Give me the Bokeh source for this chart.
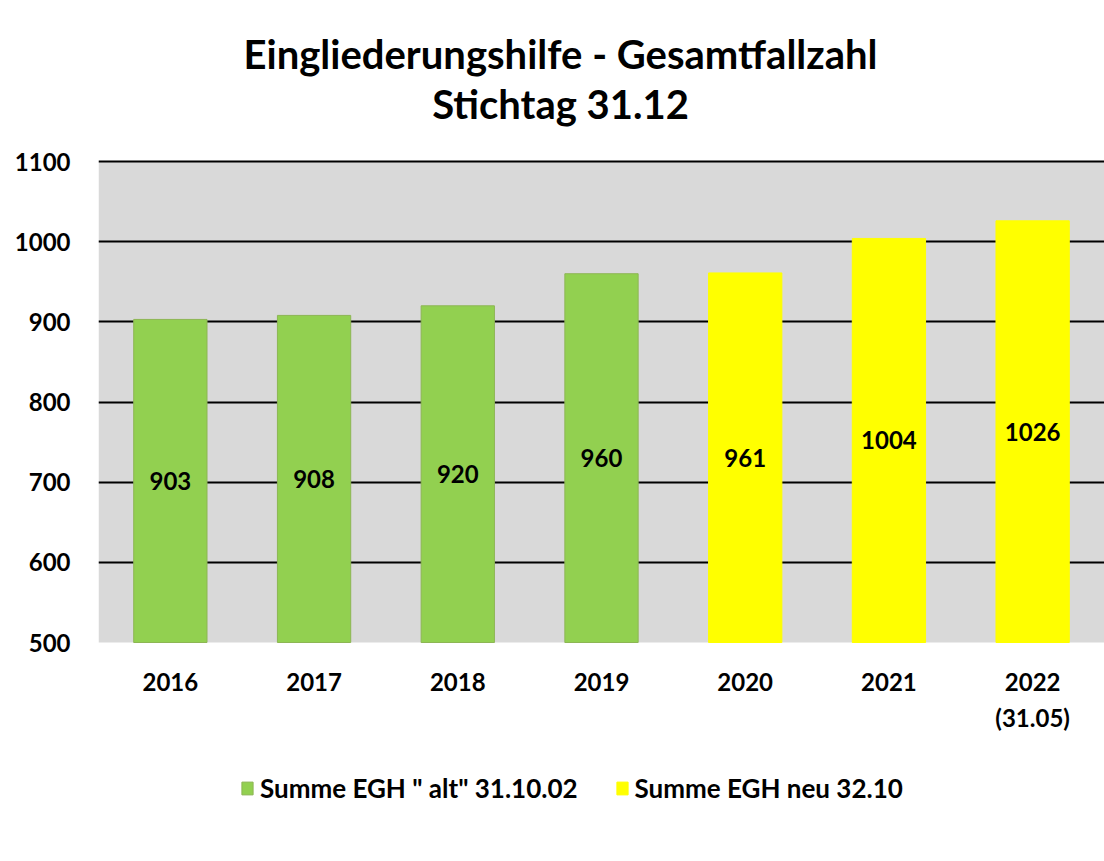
from bokeh.plotting import figure
from bokeh.models import (ColumnDataSource, FixedTicker, Legend, LegendItem, Label,
                          FactorRange, Range1d, BoxAnnotation)
from bokeh.core.properties import value
from bokeh.embed import file_html
from bokeh.resources import INLINE

# ---- data ----
years = ["2016", "2017", "2018", "2019", "2020", "2021", "2022\n(31.05)"]
alt_years = ["2016", "2017", "2018", "2019"]
alt_values = [903, 908, 920, 960]
neu_years = ["2020", "2021", "2022\n(31.05)"]
neu_values = [961, 1004, 1026]
y_ticks = [500, 600, 700, 800, 900, 1000, 1100]
series_names = ['Summe EGH " alt" 31.10.02', "Summe EGH neu 32.10"]
title_line1 = "Eingliederungshilfe - Gesamtfallzahl"
title_line2 = "Stichtag 31.12"

FONT = "Lato"
BASE = y_ticks[0]
TOP = y_ticks[-1]

# layout geometry (pixels)
W, H = 1104, 858
LEFT = 98
PX_TOP, PX_BASE = 161, 642          # where TOP and BASE sit from the canvas top
ppu = (PX_BASE - PX_TOP) / (TOP - BASE)
y_start = BASE - (H - PX_BASE) / ppu
y_end = TOP + PX_TOP / ppu

p = figure(width=W, height=H, x_range=FactorRange(*years),
           y_range=Range1d(y_start, y_end),
           output_backend="svg", toolbar_location=None,
           min_border_left=LEFT, min_border_right=0, min_border_top=0,
           min_border_bottom=0,
           background_fill_color="white", border_fill_color="white",
           outline_line_color=None)
p.title = None

# grey plot area
p.add_layout(BoxAnnotation(bottom=BASE, top=TOP, fill_color="#D9D9D9",
                           fill_alpha=1, line_color=None, level="image"))

src_alt = ColumnDataSource(dict(x=alt_years, top=alt_values,
                                mid=[(BASE + v) / 2 for v in alt_values],
                                lab=[str(v) for v in alt_values]))
src_neu = ColumnDataSource(dict(x=neu_years, top=neu_values,
                                mid=[(BASE + v) / 2 for v in neu_values],
                                lab=[str(v) for v in neu_values]))

r_alt = p.vbar(x="x", top="top", bottom=BASE, width=0.51, source=src_alt,
               fill_color="#92D050", line_color="#8DB654", line_width=1)
r_neu = p.vbar(x="x", top="top", bottom=BASE, width=0.51, source=src_neu,
               fill_color="#FFFF00", line_color="#FFFF00", line_width=1)

for s in (src_alt, src_neu):
    p.text(x="x", y="mid", text="lab", source=s, text_align="center",
           text_baseline="middle", text_font=value(FONT),
           text_font_style="bold", text_font_size="24px", text_color="black")

# grid
p.xgrid.grid_line_color = None
p.ygrid.ticker = FixedTicker(ticks=y_ticks[1:])
p.ygrid.grid_line_color = "black"
p.ygrid.grid_line_width = 2

# axes
p.yaxis.ticker = FixedTicker(ticks=y_ticks)
for ax in (p.xaxis[0], p.yaxis[0]):
    ax.axis_line_color = None
    ax.major_tick_line_color = None
    ax.minor_tick_line_color = None
    ax.major_tick_out = 0
    ax.major_tick_in = 0
    ax.major_label_text_font = FONT
    ax.major_label_text_font_style = "bold"
    ax.major_label_text_font_size = "24px"
    ax.major_label_text_color = "black"
p.yaxis.major_label_standoff = 28
p.xaxis.fixed_location = BASE
p.xaxis.major_label_standoff = 24
p.xaxis.major_label_text_line_height = 1.26

# titles (centred at x=560 of the canvas)
for txt, base_y in ((title_line1, 53), (title_line2, 103)):
    p.add_layout(Label(x=560 - LEFT, y=H - base_y, x_units="screen", y_units="screen",
                       text=txt, text_align="center", text_baseline="alphabetic",
                       text_font=FONT, text_font_style="bold",
                       text_font_size="40px", text_color="black"))

legend = Legend(items=[LegendItem(label=series_names[0], renderers=[r_alt]),
                       LegendItem(label=series_names[1], renderers=[r_neu])],
                orientation="horizontal", location=(142, 54),
                label_text_font=FONT, label_text_font_style="bold",
                label_text_font_size="26px", label_text_color="black",
                glyph_width=14, glyph_height=16, spacing=37, label_standoff=6,
                border_line_color=None, background_fill_alpha=0,
                padding=4, margin=0)
p.add_layout(legend, "center")

open("out.html", "w").write(file_html(p, INLINE))
